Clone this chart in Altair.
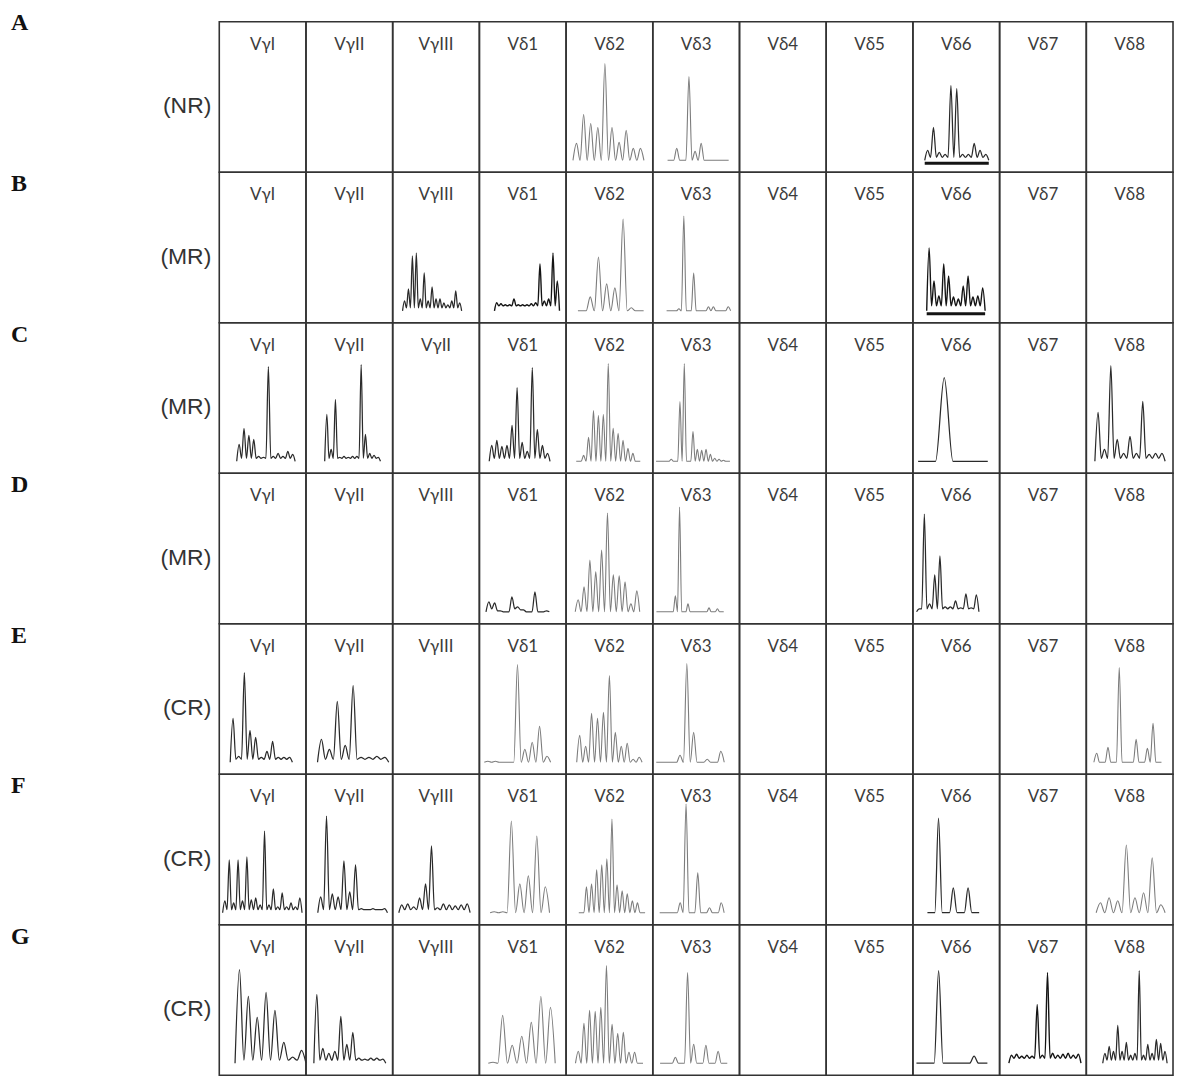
import altair as alt
import pandas as pd

ROW_IDS = ["A", "B", "C", "D", "E", "F", "G"]
ROW_GROUPS = ["(NR)", "(MR)", "(MR)", "(MR)", "(CR)", "(CR)", "(CR)"]
CELL_LABELS = ["VγI", "VγII", "VγIII", "Vδ1", "Vδ2", "Vδ3", "Vδ4", "Vδ5", "Vδ6", "Vδ7", "Vδ8"]
CELL_LABELS_C = ["VγI", "VγII", "VγII", "Vδ1", "Vδ2", "Vδ3", "Vδ4", "Vδ5", "Vδ6", "Vδ7", "Vδ8"]

# peak heights per panel column, one dict per row
PEAKS_A = {4: [17, 46, 37, 33, 97, 33, 18, 30, 12, 12],
           5: [0, 12, 0, 84, 9, 17, 0, 0, 0, 0],
           8: [10, 33, 8, 6, 75, 72, 6, 6, 17, 10, 6]}
PEAKS_B = {2: [10, 22, 55, 58, 12, 38, 10, 24, 12, 12, 8, 6, 10, 20, 8],
           3: [8, 7, 6, 6, 12, 6, 6, 6, 7, 8, 47, 10, 12, 58, 30],
           4: [0, 14, 54, 27, 23, 92, 3, 0],
           5: [0, 0, 2, 95, 0, 38, 0, 0, 4, 4, 0, 0, 4],
           8: [63, 30, 15, 47, 35, 14, 12, 25, 35, 14, 15, 23]}
PEAKS_C = {0: [17, 33, 26, 22, 5, 4, 95, 5, 8, 5, 10, 7],
           1: [47, 12, 62, 4, 5, 4, 5, 5, 97, 27, 8, 6, 4],
           3: [16, 21, 15, 16, 36, 74, 19, 10, 94, 32, 16, 8],
           4: [0, 6, 24, 51, 46, 47, 98, 33, 28, 21, 13, 8, 0],
           5: [0, 0, 0, 2, 0, 60, 98, 0, 30, 12, 11, 12, 7, 3, 2, 1, 0],
           8: [0, 84, 0, 0],
           10: [49, 12, 96, 22, 8, 25, 8, 60, 7, 8, 8]}
PEAKS_D = {3: [10, 9, 1, 0, 15, 5, 2, 0, 20, 0, 1],
           4: [12, 25, 52, 40, 62, 99, 37, 36, 30, 8, 21],
           5: [0, 0, 0, 0, 16, 105, 0, 8, 0, 0, 0, 0, 4, 0, 3, 0],
           8: [3, 98, 8, 37, 56, 5, 5, 11, 4, 18, 4, 17]}
PEAKS_E = {0: [44, 6, 90, 32, 25, 5, 11, 21, 5, 5, 5],
           1: [23, 13, 61, 17, 77, 5, 5, 6, 5],
           3: [1, 1, 0, 0, 98, 13, 20, 36, 6],
           4: [27, 16, 49, 44, 50, 87, 30, 16, 19, 3, 5],
           5: [0, 0, 0, 7, 99, 30, 0, 3, 0, 11],
           10: [9, 0, 15, 0, 95, 0, 0, 23, 0, 14, 39, 0]}
PEAKS_F = {0: [12, 53, 10, 53, 12, 56, 13, 15, 8, 82, 8, 24, 6, 20, 6, 10, 6, 15],
           1: [16, 97, 19, 16, 52, 21, 48, 4, 3, 4, 3, 4],
           2: [8, 9, 6, 15, 29, 67, 5, 9, 8, 7, 8, 9],
           3: [1, 1, 92, 29, 37, 77, 26],
           4: [0, 26, 29, 43, 48, 54, 94, 28, 22, 19, 12, 10, 0],
           5: [0, 0, 0, 10, 109, 0, 40, 0, 5, 0, 10],
           8: [0, 95, 0, 25, 0, 25, 0],
           10: [10, 15, 12, 68, 15, 20, 55, 8]}
PEAKS_G = {0: [94, 67, 46, 71, 53, 21, 6, 13],
           1: [69, 15, 10, 12, 47, 19, 31, 5, 4, 5, 5, 4],
           3: [1, 48, 18, 27, 41, 67, 56],
           4: [12, 40, 53, 52, 56, 98, 39, 30, 31, 11, 11, 0],
           5: [0, 0, 6, 0, 91, 19, 0, 18, 0, 12, 0],
           8: [0, 0, 93, 0, 0, 0, 7, 0],
           9: [8, 9, 7, 8, 7, 59, 8, 91, 10, 8, 9, 10, 8, 9],
           10: [10, 17, 12, 38, 12, 21, 8, 10, 93, 8, 19, 10, 24, 20, 12]}
PEAKS = dict(zip(ROW_IDS, [PEAKS_A, PEAKS_B, PEAKS_C, PEAKS_D, PEAKS_E, PEAKS_F, PEAKS_G]))

# size-window extent of each trace, in units of an 88-wide panel
SPANS = {
    "A": {4: (7, 79), 5: (15, 77), 8: (12, 77)},
    "B": {2: (10, 70), 3: (15.3, 81.3), 4: (12, 78.7), 5: (14, 79), 8: (14, 73.3)},
    "C": {0: (17.7, 77), 1: (19, 75.6), 3: (10, 71.7), 4: (10.3, 75.3), 5: (3.3, 78.3),
          8: (5.3, 76), 10: (8.7, 80)},
    "D": {3: (6.7, 71), 4: (9.3, 74.7), 5: (3.7, 72), 8: (3.7, 67)},
    "E": {0: (11.1, 74.2), 1: (11.7, 84), 3: (5, 72.3), 4: (10.8, 77.1), 5: (3.5, 72.5),
          10: (7.7, 76.3)},
    "F": {0: (3.4, 84), 1: (12, 82.7), 2: (6.2, 78.6), 3: (10.9, 71.2), 4: (12.9, 80.2),
          5: (7, 72.4), 8: (14.75, 67.25), 10: (10, 80)},
    "G": {0: (16, 88), 1: (8, 81), 3: (9.05, 76.95), 4: (9.55, 78.1), 5: (7.4, 75.6),
          8: (3.6, 75.6), 9: (9.4, 82.6), 10: (16.7, 82)},
}

TONES = {
    "A": {4: "gray", 5: "gray", 8: "dark"},
    "B": {2: "dark", 3: "thick", 4: "gray", 5: "gray", 8: "thick"},
    "C": {0: "dark", 1: "dark", 3: "dark", 4: "gray", 5: "gray", 8: "dark", 10: "dark"},
    "D": {3: "dark", 4: "gray", 5: "gray", 8: "dark"},
    "E": {0: "dark", 1: "dark", 3: "gray", 4: "gray", 5: "gray", 10: "gray"},
    "F": {0: "dark", 1: "dark", 2: "dark", 3: "gray", 4: "gray", 5: "gray", 8: "dark", 10: "gray"},
    "G": {0: "dark", 1: "dark", 3: "gray", 4: "gray", 5: "gray", 8: "dark", 9: "thick", 10: "dark"},
}
UNDERLINED = [("A", 8), ("B", 8)]
NOISE = {"gray": 0, "dark": 3, "thick": 5}

records = []
for ri, r in enumerate(ROW_IDS):
    labels = CELL_LABELS_C if r == "C" else CELL_LABELS
    for c in range(11):
        records.append({"kind": "label", "row": r, "col": c, "text": labels[c]})
    records.append({"kind": "group", "row": r, "col": 0, "text": ROW_GROUPS[ri]})
    records.append({"kind": "letter", "row": r, "col": 0, "text": r})
    for c, hs in PEAKS[r].items():
        b0, b1 = SPANS[r][c]
        tone = TONES[r][c]
        v = NOISE[tone]
        n = len(hs)
        s = (b1 - b0) / n
        pts = [(b0, 0)]
        for i, h in enumerate(hs):
            pts.append((b0 + (i + 0.5) * s, h))
            if i < n - 1:
                pts.append((b0 + (i + 1) * s, min(v, h, hs[i + 1])))
        pts.append((b1, 0))
        for k, (x, y) in enumerate(pts):
            records.append({"kind": "curve", "row": r, "col": c, "tone": tone,
                            "cid": f"{r}{c}", "k": k, "x": x, "y": y})
        if (r, c) in UNDERLINED:
            records.append({"kind": "bar", "row": r, "col": c, "x": b0, "x2": b1})

df = pd.DataFrame(records)

x_scale = alt.Scale(domain=[0, 88], nice=False, zero=False)
y_scale = alt.Scale(domain=[-12, 139], nice=False, zero=False)

lines = alt.Chart().mark_line(interpolate="monotone", strokeJoin="round").encode(
    x=alt.X("x:Q", scale=x_scale, axis=None),
    y=alt.Y("y:Q", scale=y_scale, axis=None),
    detail="cid:N",
    order="k:Q",
    color=alt.Color("tone:N", scale=alt.Scale(domain=["gray", "dark", "thick"],
                                              range=["#7c7c7c", "#2a2a2a", "#141414"]), legend=None),
    strokeWidth=alt.StrokeWidth("tone:N", scale=alt.Scale(domain=["gray", "dark", "thick"],
                                                          range=[1.1, 1.4, 2.4]), legend=None),
).transform_filter("datum.kind == 'curve'")

bars = alt.Chart().mark_rule(strokeWidth=3, color="#141414").encode(
    x=alt.X("x:Q", scale=x_scale, axis=None),
    x2="x2:Q",
    y=alt.value(142),
).transform_filter("datum.kind == 'bar'")

cell_text = alt.Chart().mark_text(font="Lato, Noto Sans", fontSize=17, color="#3c3c3c",
                                  baseline="middle").encode(
    x=alt.value(43.5), y=alt.value(23), text="text:N"
).transform_filter("datum.kind == 'label'")

group_text = alt.Chart().mark_text(font="Liberation Sans", fontSize=23, color="#333333",
                                   align="right", baseline="middle").encode(
    x=alt.value(-8), y=alt.value(85), text="text:N"
).transform_filter("datum.kind == 'group'")

letter_text = alt.Chart().mark_text(font="Liberation Serif", fontSize=24, fontWeight="bold",
                                    color="#111111", align="left", baseline="middle").encode(
    x=alt.value(-209), y=alt.value(12), text="text:N"
).transform_filter("datum.kind == 'letter' && datum.row != 'A'")

letter_a = alt.Chart().mark_text(font="Liberation Serif", fontSize=24, fontWeight="bold",
                                 color="#111111", align="left", baseline="middle").encode(
    x=alt.value(-209), y=alt.value(1), text="text:N"
).transform_filter("datum.kind == 'letter' && datum.row == 'A'")

chart = alt.layer(lines, bars, cell_text, group_text, letter_text, letter_a, data=df).properties(
    width=87, height=151
).facet(
    row=alt.Row("row:N", header=None, sort=ROW_IDS),
    column=alt.Column("col:O", header=None),
    spacing=0,
).properties(
    bounds="flush",
    padding={"left": 2, "top": 0, "right": 2, "bottom": 0}
).configure_view(stroke="#333333", strokeWidth=1.6)

chart.save("out.html", embed_options={"renderer": "svg", "actions": False})
